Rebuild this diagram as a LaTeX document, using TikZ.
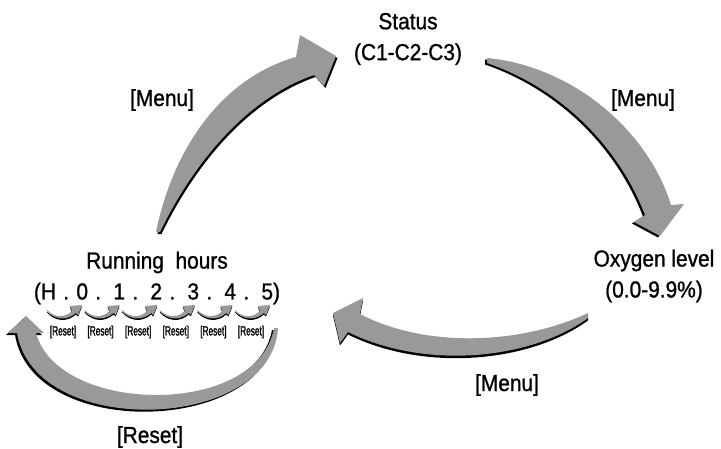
\documentclass[tikz,border=0pt]{standalone}
\usepackage{fontspec}
\setmainfont[FakeStretch=0.9, FakeBold=1]{Liberation Sans}
\newfontfamily\narrowfont[FakeStretch=0.62, FakeBold=1.5]{Liberation Sans}
\usetikzlibrary{positioning}

% gray swoosh with a dark edge: #1 = shift of the dark copy, #2 = outline
\newcommand{\swoosh}[2]{%
    \fill[arrowshadow, shift={#1}] #2;
    \fill[arrowbody] #2;
}

\begin{document}
\begin{tikzpicture}[
    x=0.025cm, y=-0.025cm,
    statestyle/.style={align=center, inner sep=0pt, font=\fontsize{16.5}{22}\selectfont},
    keystyle/.style={inner sep=0pt, font=\fontsize{16.5}{18}\selectfont},
    resetstyle/.style={inner sep=0pt, font=\narrowfont\fontsize{9.5}{10}\selectfont},
    arrowbody/.style={fill=black!40},
    arrowshadow/.style={fill=black}
]
\useasboundingbox (0,0) rectangle (721,448);

% States
\node[statestyle] (status) at (408,39) {Status\\(C1-C2-C3)};
\node[statestyle] (oxygen) at (654,276) {Oxygen level\\(0.0-9.9\%)};
\node[statestyle] (running) at (157,278)
    {Running\ \ hours\\\makebox[6.15cm][s]{(H . 0 . 1 . 2 . 3 . 4 . 5)}};

% Keys
\node[keystyle] (menuleft) at (162,100) {[Menu]};
\node[keystyle] (menuright) at (643,100) {[Menu]};
\node[keystyle] (menubottom) at (507,385) {[Menu]};
\node[keystyle] (resetkey) at (150,437) {[Reset]};

% Running hours -> Status
\swoosh{(1.5,2)}{(156,232) .. controls (175,140) and (228,76) .. (296,57)
    -- (300,35) -- (336,56) -- (324,86) -- (314,75)
    .. controls (248,98) and (195,160) .. (160,232) -- cycle}

% Status -> Oxygen level
\swoosh{(-2,1.5)}{(487,58) .. controls (572,66) and (648,130) .. (671,205)
    -- (684,204) -- (660,236) -- (634,222) -- (645,215)
    .. controls (620,150) and (565,90) .. (487,63) -- cycle}

% Oxygen level -> Running hours
\swoosh{(0,2.5)}{(588,313) .. controls (520,345) and (425,348) .. (360,314)
    -- (363,298) -- (333,313) -- (340,343) -- (348,332)
    .. controls (425,370) and (530,360) .. (588,318) -- cycle}

% Reset loop
\swoosh{(-2,2)}{(278,328) .. controls (272,432) and (35,440) .. (17,333)
    -- (8,333) -- (26,316) -- (44,333) -- (36,333)
    .. controls (58,415) and (258,418) .. (274,328) -- cycle}

% Small reset steps
\foreach \i in {0,...,5} {
    \pgfmathsetmacro\xa{47+37.6*\i}
    \swoosh{(0,1.5)}{(\xa,310) .. controls (\xa+8,318) and (\xa+18,318) .. (\xa+25,311)
        -- (\xa+23,306) -- (\xa+35,305) -- (\xa+31,315) -- (\xa+29,313)
        .. controls (\xa+20,321) and (\xa+8,320) .. (\xa,311) -- cycle}
    \node[resetstyle] (reset\i) at ({63+37.6*\i},332) {[Reset]};
}

\end{tikzpicture}
\end{document}
